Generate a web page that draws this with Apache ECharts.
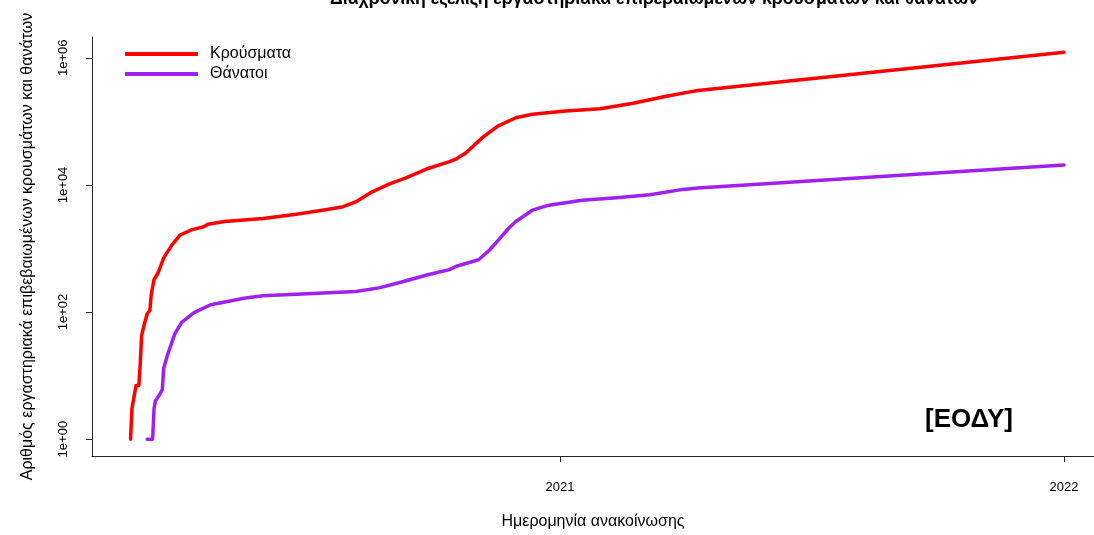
<!DOCTYPE html>
<html><head><meta charset="utf-8">
<script src="https://cdn.jsdelivr.net/npm/echarts@6/dist/echarts.min.js"></script>
<style>html,body{margin:0;padding:0;background:#fff}#c{width:1094px;height:535px}</style>
</head><body><div id="c"></div>
<script>
const caseDates = ['2020-02-25','2020-02-26','2020-02-27','2020-02-29','2020-03-02','2020-03-03','2020-03-04','2020-03-06','2020-03-08','2020-03-10','2020-03-11','2020-03-13','2020-03-16','2020-03-20','2020-03-26','2020-04-01','2020-04-09','2020-04-18','2020-04-21','2020-05-03','2020-05-17','2020-05-31','2020-06-24','2020-07-13','2020-07-28','2020-08-06','2020-08-18','2020-08-31','2020-09-11','2020-09-28','2020-10-13','2020-10-18','2020-10-25','2020-11-06','2020-11-17','2020-11-30','2020-12-12','2021-01-05','2021-01-30','2021-02-22','2021-03-19','2021-04-07','2021-04-11','2022-01-01'];
const caseValues = [1,3,4,7,7,15,43,65,93,106,190,325,415,710,1140,1630,1960,2190,2400,2650,2800,2960,3450,4000,4540,5400,7770,10500,12800,18300,23300,25700,32000,56000,84000,114000,129000,145000,158000,191000,248000,296000,305000,1220000];
const deathDates = ['2020-03-08','2020-03-12','2020-03-13','2020-03-14','2020-03-17','2020-03-19','2020-03-20','2020-03-23','2020-03-28','2020-04-02','2020-04-11','2020-04-23','2020-05-08','2020-05-17','2020-05-31','2020-07-06','2020-08-06','2020-08-23','2020-09-09','2020-09-28','2020-10-13','2020-10-18','2020-11-03','2020-11-11','2020-11-18','2020-11-25','2020-11-30','2020-12-12','2020-12-24','2021-01-17','2021-02-11','2021-03-07','2021-03-31','2021-04-11','2022-01-01'];
const deathValues = [1,1,3,4,5,6,13,22,45,69,98,130,150,165,180,195,210,240,300,390,465,525,665,945,1400,2100,2650,4000,4800,5750,6300,7000,8500,8900,20500];
const yTicks = [1, 100, 10000, 1000000];
const yTickLabels = ['1e+00', '1e+02', '1e+04', '1e+06'];
const xTicks = ['2021-01-01', '2022-01-01'];
const xTickLabels = ['2021', '2022'];
const seriesNames = ['Κρούσματα', 'Θάνατοι'];

const FONT = "'Liberation Sans', Arial, sans-serif";
const ts = s => Date.parse(s.replace(' ', 'T') + (s.length > 10 ? ':00Z' : 'T00:00:00Z'));
const xTickTs = xTicks.map(ts);
const chart = echarts.init(document.getElementById('c'), null, {renderer: 'canvas'});
function yLabel(v) {
  let best = 0, bd = Infinity;
  yTicks.forEach((t, i) => { const d = Math.abs(Math.log10(v) - Math.log10(t)); if (d < bd) { bd = d; best = i; } });
  return yTickLabels[best];
}
function xLabel(v) {
  let best = 0, bd = Infinity;
  xTickTs.forEach((t, i) => { const d = Math.abs(v - t); if (d < bd) { bd = d; best = i; } });
  return bd < 86400000 * 2 ? xTickLabels[best] : '';
}
chart.setOption({
  animation: false,
  backgroundColor: '#fff',
  textStyle: {fontFamily: FONT},
  grid: {left: 92, right: 0, top: 37, bottom: 75, containLabel: false},
  legend: {
    data: seriesNames, orient: 'vertical', left: 125, top: 46, padding: 0,
    icon: 'rect', itemWidth: 73, itemHeight: 4, itemGap: 4,
    textStyle: {fontSize: 16, color: '#000', fontFamily: FONT, padding: [0, 0, 0, 7]}
  },
  xAxis: {
    type: 'value', min: ts('2020-01-28 02:00'), max: ts('2022-01-22 17:00'),
    axisLine: {show: true, onZero: false, lineStyle: {color: '#222', width: 1}},
    axisTick: {show: true, length: 6, customValues: xTickTs, lineStyle: {color: '#222'}},
    axisLabel: {customValues: xTickTs, formatter: xLabel, margin: 25, fontSize: 13, color: '#000', fontFamily: FONT},
    splitLine: {show: false},
    name: 'Ημερομηνία ανακοίνωσης', nameLocation: 'middle', nameGap: 58,
    nameTextStyle: {fontSize: 16, color: '#000', fontFamily: FONT}
  },
  yAxis: {
    type: 'log', logBase: 10, min: 0.543, max: 2123000,
    axisLine: {show: true, lineStyle: {color: '#222', width: 1}},
    axisTick: {show: true, length: 6, customValues: yTicks, lineStyle: {color: '#222'}},
    axisLabel: {customValues: yTicks, formatter: yLabel, rotate: 90, margin: 22, fontSize: 13, color: '#000', fontFamily: FONT},
    splitLine: {show: false},
    name: 'Αριθμός εργαστηριακά επιβεβαιωμένων κρουσμάτων και θανάτων',
    nameLocation: 'middle', nameGap: 56, nameRotate: 90,
    nameTextStyle: {fontSize: 16, color: '#000', fontFamily: FONT}
  },
  graphic: [
    {type: 'text', x: 654, y: 8, style: {text: 'Διαχρονική εξέλιξη εργαστηριακά επιβεβαιωμένων κρουσμάτων και θανάτων', textAlign: 'center', textVerticalAlign: 'bottom', font: "bold 17.7px " + FONT, fill: '#000'}},
    {type: 'text', x: 969, y: 420, style: {text: '[ΕΟΔΥ]', textAlign: 'center', textVerticalAlign: 'middle', font: "bold 26px " + FONT, fill: '#000'}}
  ],
  series: [
    {name: seriesNames[0], type: 'line', showSymbol: false, symbol: 'none', smooth: false,
     data: caseDates.map((d, i) => [ts(d), caseValues[i]]),
     itemStyle: {color: '#FF0000'}, lineStyle: {color: '#FF0000', width: 3.5, cap: 'round', join: 'round'}},
    {name: seriesNames[1], type: 'line', showSymbol: false, symbol: 'none', smooth: false,
     data: deathDates.map((d, i) => [ts(d), deathValues[i]]),
     itemStyle: {color: '#A020F0'}, lineStyle: {color: '#A020F0', width: 3.5, cap: 'round', join: 'round'}}
  ]
});
</script></body></html>
